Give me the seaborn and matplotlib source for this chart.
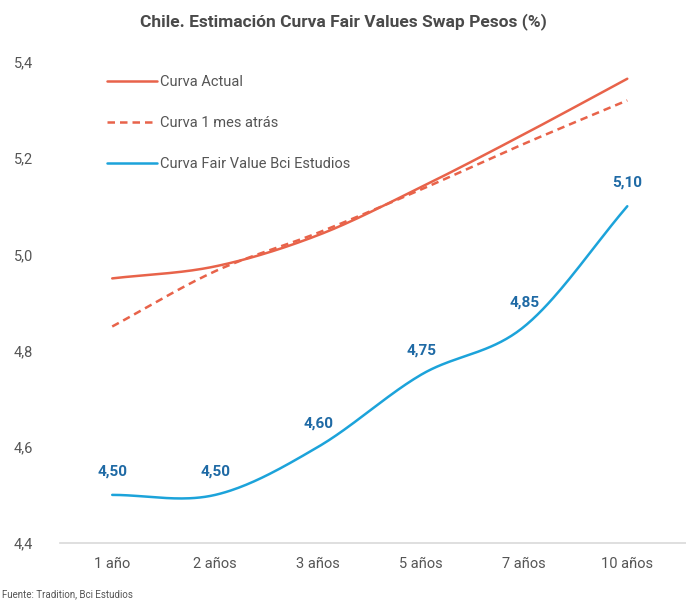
import numpy as np
import pandas as pd
import matplotlib
matplotlib.use("Agg")
import matplotlib.pyplot as plt
import seaborn as sns

categories = ["1 año", "2 años", "3 años", "5 años", "7 años", "10 años"]
curva_actual = [4.95, 4.975, 5.04, 5.14, 5.25, 5.365]
curva_mes = [4.85, 4.965, 5.045, 5.135, 5.23, 5.32]
curva_fair = [4.50, 4.50, 4.60, 4.75, 4.85, 5.10]
fair_labels = ["4,50", "4,50", "4,60", "4,75", "4,85", "5,10"]
series_names = ["Curva Actual", "Curva 1 mes atrás", "Curva Fair Value Bci Estudios"]

RED = "#E8634A"
BLUE = "#1CA3DA"
LABEL_BLUE = "#1F6AA5"
GRAY = "#555555"


def catmull_rom(y, n=40):
    y = np.asarray(y, float)
    x = np.arange(len(y), dtype=float)
    p = np.concatenate([[2 * y[0] - y[1]], y, [2 * y[-1] - y[-2]]])
    xs, ys = [], []
    for i in range(len(y) - 1):
        p0, p1, p2, p3 = p[i], p[i + 1], p[i + 2], p[i + 3]
        t = np.linspace(0, 1, n, endpoint=(i == len(y) - 2))
        yy = 0.5 * ((2 * p1) + (-p0 + p2) * t + (2 * p0 - 5 * p1 + 4 * p2 - p3) * t**2
                    + (-p0 + 3 * p1 - 3 * p2 + p3) * t**3)
        xs.append(x[i] + t)
        ys.append(yy)
    return np.concatenate(xs), np.concatenate(ys)


rows = []
for name, vals in zip(series_names, [curva_actual, curva_mes, curva_fair]):
    xs, ys = catmull_rom(vals)
    rows.append(pd.DataFrame({"x": xs, "y": ys, "serie": name}))
df = pd.concat(rows, ignore_index=True)

sns.set_theme(style="white")
plt.rcParams["font.family"] = ["Roboto", "DejaVu Sans"]

fig = plt.figure(figsize=(6.86, 6.01), dpi=100)
ax = fig.add_axes([0.087, 0.0965, 0.913, 0.8005])

sns.lineplot(data=df, x="x", y="y", hue="serie", style="serie",
             palette={series_names[0]: RED, series_names[1]: RED, series_names[2]: BLUE},
             dashes={series_names[0]: "", series_names[1]: (3, 2), series_names[2]: ""},
             linewidth=1.8, ax=ax, sort=False, estimator=None)

for i, (v, lab) in enumerate(zip(curva_fair, fair_labels)):
    ax.annotate(lab, (i, v), xytext=(0, 12), textcoords="offset points",
                ha="center", va="bottom", fontsize=11, fontweight="bold", color=LABEL_BLUE)

ax.set_xlim(-0.51, 5.57)
ax.set_ylim(4.4, 5.4)
ax.set_xticks(range(len(categories)))
ax.set_xticklabels(categories, fontsize=10.5, color=GRAY)
yt = [4.4, 4.6, 4.8, 5.0, 5.2, 5.4]
ax.set_yticks(yt)
ax.set_yticklabels([f"{v:.1f}".replace(".", ",") for v in yt], fontsize=10.5, color=GRAY)
ax.tick_params(axis="x", length=0, pad=10)
for s in ["top", "right", "left"]:
    ax.spines[s].set_visible(False)
ax.spines["bottom"].set_color("#d9d9d9")
ax.spines["bottom"].set_linewidth(1.2)
ax.set_xlabel("")
ax.set_ylabel("")
for lab in ax.get_yticklabels():
    lab.set_horizontalalignment("left")
ax.tick_params(axis="y", length=0, pad=33)

leg = ax.legend(loc="upper left", bbox_to_anchor=(0.055, 1.0), frameon=False,
                fontsize=10.5, handlelength=3.4, handletextpad=0.2, labelspacing=1.85,
                labelcolor=GRAY)

fig.text(0.5, 0.965, "Chile. Estimación Curva Fair Values Swap Pesos (%)",
         ha="center", va="center", fontsize=12.5, fontweight="bold", color="#4a4a4a")
fig.text(0.003, 0.012, "Fuente: Tradition, Bci Estudios", ha="left", va="center",
         fontsize=7, color=GRAY)

fig.savefig("out.png", dpi=100)
